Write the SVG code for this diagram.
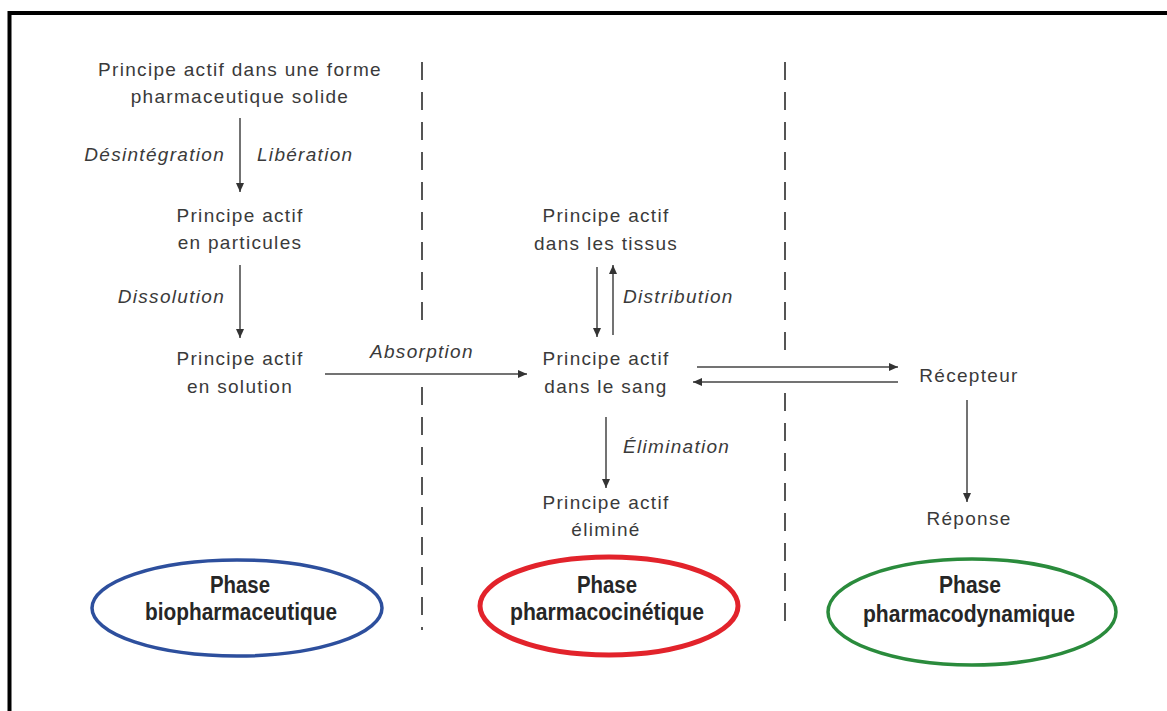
<svg xmlns="http://www.w3.org/2000/svg" width="1167" height="711" viewBox="0 0 1167 711">
<style>
.t{font-family:"Liberation Sans",Arial,sans-serif;font-size:19px;fill:#3a3a3a;letter-spacing:1.3px}
.c{text-anchor:middle}
.i{font-style:italic}
.e{text-anchor:end}
.b{font-family:"Liberation Sans",Arial,sans-serif;font-size:23px;font-weight:bold;fill:#262626;text-anchor:middle}
.ln{stroke:#444;stroke-width:1.5;fill:none}
.arr{marker-end:url(#ah)}
.dash{stroke:#555;stroke-width:2;stroke-dasharray:18 12;fill:none}
</style>
<defs>
<marker id="ah" markerUnits="userSpaceOnUse" markerWidth="10" markerHeight="8" refX="9" refY="4" orient="auto">
<path d="M0,0 L9,4 L0,8 z" fill="#333"/>
</marker>
</defs>
<rect x="0" y="0" width="1167" height="711" fill="#fff"/>
<rect x="9.5" y="13" width="1170" height="720" fill="none" stroke="#000" stroke-width="4"/>
<g id="separators">
<line class="dash" x1="422" y1="62" x2="422" y2="330"/>
<line class="dash" x1="422" y1="387" x2="422" y2="630"/>
<line class="dash" x1="785" y1="62" x2="785" y2="358"/>
<line class="dash" x1="785" y1="393" x2="785" y2="630"/>
</g>
<g id="connectors">
<line class="ln arr" x1="240" y1="118" x2="240" y2="192"/>
<line class="ln arr" x1="240" y1="265" x2="240" y2="338"/>
<line class="ln arr" x1="325" y1="374" x2="527" y2="374"/>
<line class="ln arr" x1="597" y1="267" x2="597" y2="337"/>
<line class="ln arr" x1="613" y1="335" x2="613" y2="265"/>
<line class="ln arr" x1="606" y1="417" x2="606" y2="488"/>
<line class="ln arr" x1="697" y1="367" x2="898" y2="367"/>
<line class="ln arr" x1="898" y1="382" x2="693" y2="382"/>
<line class="ln arr" x1="967" y1="400" x2="967" y2="502"/>
<text class="t i e" x="225" y="161">Désintégration</text>
<text class="t i" x="257" y="161">Libération</text>
<text class="t i e" x="225" y="303">Dissolution</text>
<text class="t i" x="370" y="358">Absorption</text>
<text class="t i" x="623" y="303">Distribution</text>
<text class="t i" x="623" y="453">Élimination</text>
</g>
<g id="node-forme">
<text class="t c" x="240" y="76">Principe actif dans une forme</text>
<text class="t c" x="240" y="103">pharmaceutique solide</text>
</g>
<g id="node-particules">
<text class="t c" x="240" y="222">Principe actif</text>
<text class="t c" x="240" y="249">en particules</text>
</g>
<g id="node-solution">
<text class="t c" x="240" y="365">Principe actif</text>
<text class="t c" x="240" y="393">en solution</text>
</g>
<g id="node-tissus">
<text class="t c" x="606" y="222">Principe actif</text>
<text class="t c" x="606" y="250">dans les tissus</text>
</g>
<g id="node-sang">
<text class="t c" x="606" y="365">Principe actif</text>
<text class="t c" x="606" y="393">dans le sang</text>
</g>
<g id="node-elimine">
<text class="t c" x="606" y="509">Principe actif</text>
<text class="t c" x="606" y="536">éliminé</text>
</g>
<g id="node-recepteur">
<text class="t c" x="969" y="382">Récepteur</text>
</g>
<g id="node-reponse">
<text class="t c" x="969" y="525">Réponse</text>
</g>
<g id="phase-bio">
<ellipse cx="237" cy="608" rx="145" ry="48" fill="none" stroke="#2d4f9d" stroke-width="3.5"/>
<text class="b" x="240" y="593" textLength="60" lengthAdjust="spacingAndGlyphs">Phase</text>
<text class="b" x="241" y="620" textLength="192" lengthAdjust="spacingAndGlyphs">biopharmaceutique</text>
</g>
<g id="phase-pk">
<ellipse cx="609" cy="606" rx="129" ry="49" fill="none" stroke="#e2232b" stroke-width="5"/>
<text class="b" x="607" y="593" textLength="60" lengthAdjust="spacingAndGlyphs">Phase</text>
<text class="b" x="607" y="620" textLength="194" lengthAdjust="spacingAndGlyphs">pharmacocinétique</text>
</g>
<g id="phase-pd">
<ellipse cx="972" cy="612" rx="144" ry="53" fill="none" stroke="#2a8b3c" stroke-width="3.5"/>
<text class="b" x="970" y="593" textLength="62" lengthAdjust="spacingAndGlyphs">Phase</text>
<text class="b" x="969" y="622" textLength="212" lengthAdjust="spacingAndGlyphs">pharmacodynamique</text>
</g>
</svg>
